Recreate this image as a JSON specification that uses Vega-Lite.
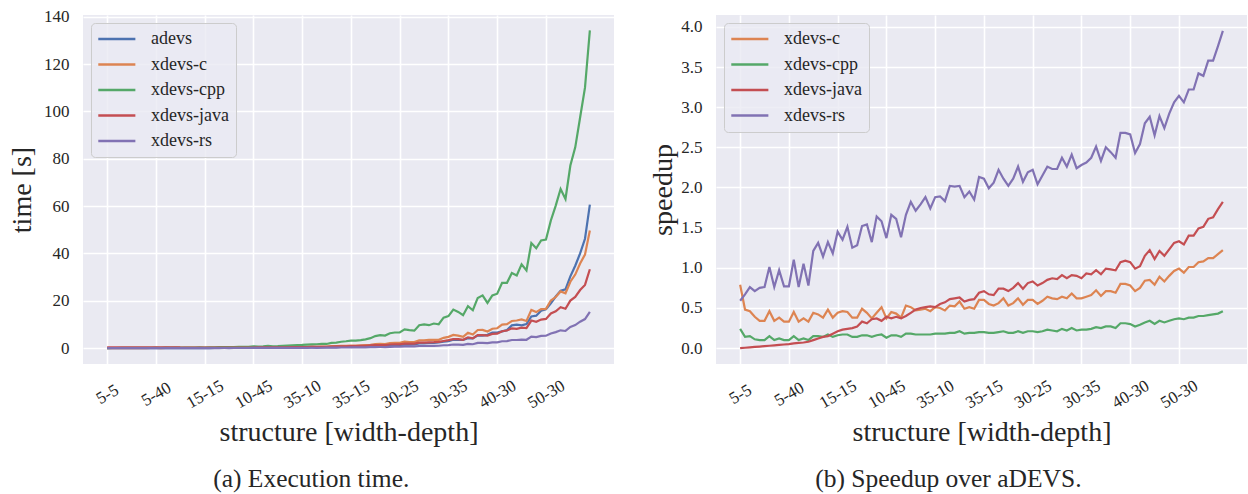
{
"$schema": "https://vega.github.io/schema/vega-lite/v6.json",
"padding": {"left": 8, "top": 7, "right": 0, "bottom": 0},
"datasets": {
"times": [
{"i":0,"adevs":0.008,"xdevs-c":0.01,"xdevs-cpp":0.03,"xdevs-java":0.30,"xdevs-rs":0.01},
{"i":1,"adevs":0.008,"xdevs-c":0.02,"xdevs-cpp":0.06,"xdevs-java":0.30,"xdevs-rs":0.01},
{"i":2,"adevs":0.009,"xdevs-c":0.02,"xdevs-cpp":0.06,"xdevs-java":0.30,"xdevs-rs":0.01},
{"i":3,"adevs":0.010,"xdevs-c":0.03,"xdevs-cpp":0.09,"xdevs-java":0.31,"xdevs-rs":0.01},
{"i":4,"adevs":0.011,"xdevs-c":0.03,"xdevs-cpp":0.11,"xdevs-java":0.31,"xdevs-rs":0.01},
{"i":5,"adevs":0.012,"xdevs-c":0.03,"xdevs-cpp":0.12,"xdevs-java":0.32,"xdevs-rs":0.02},
{"i":6,"adevs":0.013,"xdevs-c":0.03,"xdevs-cpp":0.09,"xdevs-java":0.32,"xdevs-rs":0.01},
{"i":7,"adevs":0.014,"xdevs-c":0.04,"xdevs-cpp":0.14,"xdevs-java":0.33,"xdevs-rs":0.02},
{"i":8,"adevs":0.015,"xdevs-c":0.04,"xdevs-cpp":0.13,"xdevs-java":0.33,"xdevs-rs":0.02},
{"i":9,"adevs":0.017,"xdevs-c":0.05,"xdevs-cpp":0.17,"xdevs-java":0.34,"xdevs-rs":0.02},
{"i":10,"adevs":0.018,"xdevs-c":0.06,"xdevs-cpp":0.18,"xdevs-java":0.35,"xdevs-rs":0.02},
{"i":11,"adevs":0.020,"xdevs-c":0.04,"xdevs-cpp":0.13,"xdevs-java":0.35,"xdevs-rs":0.02},
{"i":12,"adevs":0.022,"xdevs-c":0.07,"xdevs-cpp":0.22,"xdevs-java":0.36,"xdevs-rs":0.03},
{"i":13,"adevs":0.024,"xdevs-c":0.06,"xdevs-cpp":0.20,"xdevs-java":0.36,"xdevs-rs":0.02},
{"i":14,"adevs":0.026,"xdevs-c":0.08,"xdevs-cpp":0.26,"xdevs-java":0.37,"xdevs-rs":0.03},
{"i":15,"adevs":0.028,"xdevs-c":0.06,"xdevs-cpp":0.19,"xdevs-java":0.28,"xdevs-rs":0.02},
{"i":16,"adevs":0.031,"xdevs-c":0.07,"xdevs-cpp":0.20,"xdevs-java":0.25,"xdevs-rs":0.02},
{"i":17,"adevs":0.033,"xdevs-c":0.09,"xdevs-cpp":0.24,"xdevs-java":0.24,"xdevs-rs":0.03},
{"i":18,"adevs":0.036,"xdevs-c":0.08,"xdevs-cpp":0.21,"xdevs-java":0.24,"xdevs-rs":0.03},
{"i":19,"adevs":0.039,"xdevs-c":0.10,"xdevs-cpp":0.28,"xdevs-java":0.22,"xdevs-rs":0.03},
{"i":20,"adevs":0.043,"xdevs-c":0.10,"xdevs-cpp":0.27,"xdevs-java":0.20,"xdevs-rs":0.03},
{"i":21,"adevs":0.047,"xdevs-c":0.10,"xdevs-cpp":0.28,"xdevs-java":0.20,"xdevs-rs":0.03},
{"i":22,"adevs":0.051,"xdevs-c":0.11,"xdevs-cpp":0.30,"xdevs-java":0.21,"xdevs-rs":0.03},
{"i":23,"adevs":0.056,"xdevs-c":0.15,"xdevs-cpp":0.40,"xdevs-java":0.22,"xdevs-rs":0.04},
{"i":24,"adevs":0.061,"xdevs-c":0.16,"xdevs-cpp":0.43,"xdevs-java":0.22,"xdevs-rs":0.05},
{"i":25,"adevs":0.066,"xdevs-c":0.13,"xdevs-cpp":0.41,"xdevs-java":0.20,"xdevs-rs":0.04},
{"i":26,"adevs":0.072,"xdevs-c":0.16,"xdevs-cpp":0.45,"xdevs-java":0.23,"xdevs-rs":0.05},
{"i":27,"adevs":0.079,"xdevs-c":0.21,"xdevs-cpp":0.56,"xdevs-java":0.22,"xdevs-rs":0.06},
{"i":28,"adevs":0.086,"xdevs-c":0.20,"xdevs-cpp":0.54,"xdevs-java":0.23,"xdevs-rs":0.05},
{"i":29,"adevs":0.093,"xdevs-c":0.18,"xdevs-cpp":0.55,"xdevs-java":0.27,"xdevs-rs":0.06},
{"i":30,"adevs":0.102,"xdevs-c":0.28,"xdevs-cpp":0.78,"xdevs-java":0.26,"xdevs-rs":0.07},
{"i":31,"adevs":0.111,"xdevs-c":0.25,"xdevs-cpp":0.69,"xdevs-java":0.30,"xdevs-rs":0.07},
{"i":32,"adevs":0.121,"xdevs-c":0.28,"xdevs-cpp":0.76,"xdevs-java":0.31,"xdevs-rs":0.08},
{"i":33,"adevs":0.132,"xdevs-c":0.35,"xdevs-cpp":0.94,"xdevs-java":0.36,"xdevs-rs":0.10},
{"i":34,"adevs":0.144,"xdevs-c":0.27,"xdevs-cpp":0.80,"xdevs-java":0.36,"xdevs-rs":0.09},
{"i":35,"adevs":0.156,"xdevs-c":0.31,"xdevs-cpp":0.87,"xdevs-java":0.35,"xdevs-rs":0.09},
{"i":36,"adevs":0.171,"xdevs-c":0.36,"xdevs-cpp":1.01,"xdevs-java":0.36,"xdevs-rs":0.10},
{"i":37,"adevs":0.186,"xdevs-c":0.39,"xdevs-cpp":1.09,"xdevs-java":0.37,"xdevs-rs":0.10},
{"i":38,"adevs":0.203,"xdevs-c":0.41,"xdevs-cpp":1.19,"xdevs-java":0.40,"xdevs-rs":0.11},
{"i":39,"adevs":0.221,"xdevs-c":0.48,"xdevs-cpp":1.30,"xdevs-java":0.43,"xdevs-rs":0.13},
{"i":40,"adevs":0.241,"xdevs-c":0.47,"xdevs-cpp":1.34,"xdevs-java":0.47,"xdevs-rs":0.13},
{"i":41,"adevs":0.263,"xdevs-c":0.53,"xdevs-cpp":1.46,"xdevs-java":0.48,"xdevs-rs":0.14},
{"i":42,"adevs":0.286,"xdevs-c":0.61,"xdevs-cpp":1.59,"xdevs-java":0.50,"xdevs-rs":0.16},
{"i":43,"adevs":0.312,"xdevs-c":0.59,"xdevs-cpp":1.64,"xdevs-java":0.51,"xdevs-rs":0.15},
{"i":44,"adevs":0.340,"xdevs-c":0.65,"xdevs-cpp":1.79,"xdevs-java":0.55,"xdevs-rs":0.17},
{"i":45,"adevs":0.370,"xdevs-c":0.64,"xdevs-cpp":1.76,"xdevs-java":0.59,"xdevs-rs":0.18},
{"i":46,"adevs":0.404,"xdevs-c":0.82,"xdevs-cpp":2.24,"xdevs-java":0.70,"xdevs-rs":0.21},
{"i":47,"adevs":0.440,"xdevs-c":0.86,"xdevs-cpp":2.32,"xdevs-java":0.73,"xdevs-rs":0.23},
{"i":48,"adevs":0.48,"xdevs-c":0.98,"xdevs-cpp":2.7,"xdevs-java":0.79,"xdevs-rs":0.26},
{"i":49,"adevs":0.55,"xdevs-c":0.92,"xdevs-cpp":2.9,"xdevs-java":0.80,"xdevs-rs":0.26},
{"i":50,"adevs":0.61,"xdevs-c":1.02,"xdevs-cpp":3.2,"xdevs-java":0.86,"xdevs-rs":0.29},
{"i":51,"adevs":0.58,"xdevs-c":1.05,"xdevs-cpp":3.2,"xdevs-java":0.87,"xdevs-rs":0.29},
{"i":52,"adevs":0.62,"xdevs-c":1.17,"xdevs-cpp":3.4,"xdevs-java":0.94,"xdevs-rs":0.30},
{"i":53,"adevs":0.70,"xdevs-c":1.25,"xdevs-cpp":3.7,"xdevs-java":0.95,"xdevs-rs":0.32},
{"i":54,"adevs":0.84,"xdevs-c":1.35,"xdevs-cpp":4.2,"xdevs-java":1.14,"xdevs-rs":0.40},
{"i":55,"adevs":0.92,"xdevs-c":1.74,"xdevs-cpp":5.1,"xdevs-java":1.30,"xdevs-rs":0.46},
{"i":56,"adevs":1.00,"xdevs-c":1.79,"xdevs-cpp":5.5,"xdevs-java":1.33,"xdevs-rs":0.47},
{"i":57,"adevs":1.05,"xdevs-c":1.69,"xdevs-cpp":5.3,"xdevs-java":1.30,"xdevs-rs":0.46},
{"i":58,"adevs":1.14,"xdevs-c":2.11,"xdevs-cpp":6.3,"xdevs-java":1.54,"xdevs-rs":0.55},
{"i":59,"adevs":1.32,"xdevs-c":2.20,"xdevs-cpp":6.6,"xdevs-java":1.63,"xdevs-rs":0.60},
{"i":60,"adevs":1.32,"xdevs-c":2.20,"xdevs-cpp":6.6,"xdevs-java":1.59,"xdevs-rs":0.59},
{"i":61,"adevs":1.50,"xdevs-c":2.73,"xdevs-cpp":7.9,"xdevs-java":1.92,"xdevs-rs":0.74},
{"i":62,"adevs":1.52,"xdevs-c":2.58,"xdevs-cpp":7.6,"xdevs-java":1.88,"xdevs-rs":0.71},
{"i":63,"adevs":1.62,"xdevs-c":2.53,"xdevs-cpp":7.4,"xdevs-java":1.91,"xdevs-rs":0.72},
{"i":64,"adevs":2.02,"xdevs-c":3.26,"xdevs-cpp":9.7,"xdevs-java":2.32,"xdevs-rs":0.91},
{"i":65,"adevs":2.00,"xdevs-c":3.28,"xdevs-cpp":10.0,"xdevs-java":2.33,"xdevs-rs":0.90},
{"i":66,"adevs":2.21,"xdevs-c":3.45,"xdevs-cpp":9.7,"xdevs-java":2.43,"xdevs-rs":0.93},
{"i":67,"adevs":2.18,"xdevs-c":3.52,"xdevs-cpp":10.4,"xdevs-java":2.51,"xdevs-rs":0.96},
{"i":68,"adevs":2.40,"xdevs-c":3.53,"xdevs-cpp":10.1,"xdevs-java":2.64,"xdevs-rs":1.00},
{"i":69,"adevs":2.70,"xdevs-c":4.35,"xdevs-cpp":12.9,"xdevs-java":3.00,"xdevs-rs":1.21},
{"i":70,"adevs":2.95,"xdevs-c":4.76,"xdevs-cpp":13.5,"xdevs-java":3.39,"xdevs-rs":1.29},
{"i":71,"adevs":3.56,"xdevs-c":5.56,"xdevs-cpp":16.3,"xdevs-java":3.83,"xdevs-rs":1.54},
{"i":72,"adevs":3.49,"xdevs-c":5.29,"xdevs-cpp":15.3,"xdevs-java":3.79,"xdevs-rs":1.47},
{"i":73,"adevs":3.43,"xdevs-c":4.76,"xdevs-cpp":13.9,"xdevs-java":3.54,"xdevs-rs":1.37},
{"i":74,"adevs":4.21,"xdevs-c":6.48,"xdevs-cpp":17.7,"xdevs-java":4.58,"xdevs-rs":1.81},
{"i":75,"adevs":4.10,"xdevs-c":5.77,"xdevs-cpp":16.0,"xdevs-java":4.14,"xdevs-rs":1.64},
{"i":76,"adevs":5.43,"xdevs-c":7.65,"xdevs-cpp":21.2,"xdevs-java":5.54,"xdevs-rs":2.23},
{"i":77,"adevs":5.30,"xdevs-c":7.68,"xdevs-cpp":22.3,"xdevs-java":5.46,"xdevs-rs":2.24},
{"i":78,"adevs":5.62,"xdevs-c":7.03,"xdevs-cpp":19.1,"xdevs-java":5.25,"xdevs-rs":2.10},
{"i":79,"adevs":6.56,"xdevs-c":8.20,"xdevs-cpp":22.3,"xdevs-java":6.02,"xdevs-rs":2.45},
{"i":80,"adevs":6.56,"xdevs-c":8.41,"xdevs-cpp":23.0,"xdevs-java":6.13,"xdevs-rs":2.47},
{"i":81,"adevs":7.08,"xdevs-c":9.97,"xdevs-cpp":27.6,"xdevs-java":7.15,"xdevs-rs":2.91},
{"i":82,"adevs":7.60,"xdevs-c":10.13,"xdevs-cpp":27.6,"xdevs-java":7.45,"xdevs-rs":2.99},
{"i":83,"adevs":9.63,"xdevs-c":11.46,"xdevs-cpp":31.7,"xdevs-java":8.37,"xdevs-rs":3.44},
{"i":84,"adevs":9.92,"xdevs-c":11.67,"xdevs-cpp":30.7,"xdevs-java":8.13,"xdevs-rs":3.44},
{"i":85,"adevs":9.6,"xdevs-c":12.15,"xdevs-cpp":35.4,"xdevs-java":8.65,"xdevs-rs":3.62},
{"i":86,"adevs":10.2,"xdevs-c":11.46,"xdevs-cpp":32.8,"xdevs-java":8.43,"xdevs-rs":3.53},
{"i":87,"adevs":13.4,"xdevs-c":16.14,"xdevs-cpp":44.4,"xdevs-java":11.65,"xdevs-rs":4.89},
{"i":88,"adevs":13.7,"xdevs-c":15.22,"xdevs-cpp":42.2,"xdevs-java":11.14,"xdevs-rs":4.69},
{"i":89,"adevs":15.8,"xdevs-c":16.46,"xdevs-cpp":45.5,"xdevs-java":12.06,"xdevs-rs":5.16},
{"i":90,"adevs":16.4,"xdevs-c":16.57,"xdevs-cpp":45.9,"xdevs-java":12.33,"xdevs-rs":5.22},
{"i":91,"adevs":18.9,"xdevs-c":20.11,"xdevs-cpp":53.9,"xdevs-java":14.65,"xdevs-rs":6.18},
{"i":92,"adevs":21.8,"xdevs-c":21.58,"xdevs-cpp":60.2,"xdevs-java":15.57,"xdevs-rs":6.77},
{"i":93,"adevs":24.2,"xdevs-c":23.96,"xdevs-cpp":67.2,"xdevs-java":17.29,"xdevs-rs":7.52},
{"i":94,"adevs":24.8,"xdevs-c":23.18,"xdevs-cpp":63.0,"xdevs-java":16.64,"xdevs-rs":7.25},
{"i":95,"adevs":30.3,"xdevs-c":28.06,"xdevs-cpp":77.1,"xdevs-java":20.07,"xdevs-rs":8.94},
{"i":96,"adevs":34.8,"xdevs-c":31.07,"xdevs-cpp":84.8,"xdevs-java":21.61,"xdevs-rs":9.72},
{"i":97,"adevs":40.0,"xdevs-c":35.71,"xdevs-cpp":97.4,"xdevs-java":24.54,"xdevs-rs":11.17},
{"i":98,"adevs":46.2,"xdevs-c":39.49,"xdevs-cpp":110.0,"xdevs-java":26.71,"xdevs-rs":12.29},
{"i":99,"adevs":60.6,"xdevs-c":49.67,"xdevs-cpp":134.2,"xdevs-java":33.30,"xdevs-rs":15.34}
],
"speedups": [
{"i":0,"xdevs-c":0.79,"xdevs-cpp":0.24,"xdevs-java":0.0,"xdevs-rs":0.59},
{"i":1,"xdevs-c":0.48,"xdevs-cpp":0.14,"xdevs-java":0.005,"xdevs-rs":0.67},
{"i":2,"xdevs-c":0.46,"xdevs-cpp":0.15,"xdevs-java":0.01,"xdevs-rs":0.76},
{"i":3,"xdevs-c":0.39,"xdevs-cpp":0.11,"xdevs-java":0.015,"xdevs-rs":0.71},
{"i":4,"xdevs-c":0.34,"xdevs-cpp":0.10,"xdevs-java":0.02,"xdevs-rs":0.75},
{"i":5,"xdevs-c":0.34,"xdevs-cpp":0.10,"xdevs-java":0.025,"xdevs-rs":0.76},
{"i":6,"xdevs-c":0.46,"xdevs-cpp":0.15,"xdevs-java":0.03,"xdevs-rs":1.01},
{"i":7,"xdevs-c":0.34,"xdevs-cpp":0.10,"xdevs-java":0.035,"xdevs-rs":0.76},
{"i":8,"xdevs-c":0.38,"xdevs-cpp":0.12,"xdevs-java":0.04,"xdevs-rs":0.97},
{"i":9,"xdevs-c":0.33,"xdevs-cpp":0.10,"xdevs-java":0.045,"xdevs-rs":0.77},
{"i":10,"xdevs-c":0.33,"xdevs-cpp":0.10,"xdevs-java":0.05,"xdevs-rs":0.77},
{"i":11,"xdevs-c":0.45,"xdevs-cpp":0.15,"xdevs-java":0.06,"xdevs-rs":1.10},
{"i":12,"xdevs-c":0.33,"xdevs-cpp":0.10,"xdevs-java":0.065,"xdevs-rs":0.76},
{"i":13,"xdevs-c":0.37,"xdevs-cpp":0.12,"xdevs-java":0.07,"xdevs-rs":1.05},
{"i":14,"xdevs-c":0.33,"xdevs-cpp":0.10,"xdevs-java":0.08,"xdevs-rs":0.78},
{"i":15,"xdevs-c":0.44,"xdevs-cpp":0.15,"xdevs-java":0.10,"xdevs-rs":1.21},
{"i":16,"xdevs-c":0.42,"xdevs-cpp":0.15,"xdevs-java":0.12,"xdevs-rs":1.31},
{"i":17,"xdevs-c":0.38,"xdevs-cpp":0.14,"xdevs-java":0.14,"xdevs-rs":1.14},
{"i":18,"xdevs-c":0.48,"xdevs-cpp":0.17,"xdevs-java":0.15,"xdevs-rs":1.32},
{"i":19,"xdevs-c":0.38,"xdevs-cpp":0.14,"xdevs-java":0.18,"xdevs-rs":1.18},
{"i":20,"xdevs-c":0.44,"xdevs-cpp":0.16,"xdevs-java":0.21,"xdevs-rs":1.45},
{"i":21,"xdevs-c":0.46,"xdevs-cpp":0.17,"xdevs-java":0.23,"xdevs-rs":1.35},
{"i":22,"xdevs-c":0.45,"xdevs-cpp":0.17,"xdevs-java":0.24,"xdevs-rs":1.51},
{"i":23,"xdevs-c":0.38,"xdevs-cpp":0.14,"xdevs-java":0.25,"xdevs-rs":1.25},
{"i":24,"xdevs-c":0.38,"xdevs-cpp":0.14,"xdevs-java":0.27,"xdevs-rs":1.28},
{"i":25,"xdevs-c":0.49,"xdevs-cpp":0.16,"xdevs-java":0.33,"xdevs-rs":1.52},
{"i":26,"xdevs-c":0.44,"xdevs-cpp":0.16,"xdevs-java":0.31,"xdevs-rs":1.54},
{"i":27,"xdevs-c":0.37,"xdevs-cpp":0.14,"xdevs-java":0.36,"xdevs-rs":1.32},
{"i":28,"xdevs-c":0.44,"xdevs-cpp":0.16,"xdevs-java":0.37,"xdevs-rs":1.64},
{"i":29,"xdevs-c":0.51,"xdevs-cpp":0.17,"xdevs-java":0.34,"xdevs-rs":1.58},
{"i":30,"xdevs-c":0.37,"xdevs-cpp":0.13,"xdevs-java":0.39,"xdevs-rs":1.37},
{"i":31,"xdevs-c":0.45,"xdevs-cpp":0.16,"xdevs-java":0.37,"xdevs-rs":1.66},
{"i":32,"xdevs-c":0.43,"xdevs-cpp":0.16,"xdevs-java":0.39,"xdevs-rs":1.61},
{"i":33,"xdevs-c":0.38,"xdevs-cpp":0.14,"xdevs-java":0.37,"xdevs-rs":1.38},
{"i":34,"xdevs-c":0.53,"xdevs-cpp":0.18,"xdevs-java":0.40,"xdevs-rs":1.66},
{"i":35,"xdevs-c":0.51,"xdevs-cpp":0.18,"xdevs-java":0.44,"xdevs-rs":1.82},
{"i":36,"xdevs-c":0.47,"xdevs-cpp":0.17,"xdevs-java":0.48,"xdevs-rs":1.71},
{"i":37,"xdevs-c":0.48,"xdevs-cpp":0.17,"xdevs-java":0.50,"xdevs-rs":1.79},
{"i":38,"xdevs-c":0.49,"xdevs-cpp":0.17,"xdevs-java":0.51,"xdevs-rs":1.88},
{"i":39,"xdevs-c":0.46,"xdevs-cpp":0.17,"xdevs-java":0.52,"xdevs-rs":1.74},
{"i":40,"xdevs-c":0.51,"xdevs-cpp":0.18,"xdevs-java":0.51,"xdevs-rs":1.88},
{"i":41,"xdevs-c":0.50,"xdevs-cpp":0.18,"xdevs-java":0.55,"xdevs-rs":1.89},
{"i":42,"xdevs-c":0.47,"xdevs-cpp":0.18,"xdevs-java":0.57,"xdevs-rs":1.83},
{"i":43,"xdevs-c":0.53,"xdevs-cpp":0.19,"xdevs-java":0.61,"xdevs-rs":2.02},
{"i":44,"xdevs-c":0.52,"xdevs-cpp":0.19,"xdevs-java":0.62,"xdevs-rs":2.01},
{"i":45,"xdevs-c":0.58,"xdevs-cpp":0.21,"xdevs-java":0.63,"xdevs-rs":2.02},
{"i":46,"xdevs-c":0.49,"xdevs-cpp":0.18,"xdevs-java":0.58,"xdevs-rs":1.88},
{"i":47,"xdevs-c":0.51,"xdevs-cpp":0.19,"xdevs-java":0.60,"xdevs-rs":1.95},
{"i":48,"xdevs-c":0.49,"xdevs-cpp":0.19,"xdevs-java":0.61,"xdevs-rs":1.85},
{"i":49,"xdevs-c":0.60,"xdevs-cpp":0.20,"xdevs-java":0.69,"xdevs-rs":2.13},
{"i":50,"xdevs-c":0.60,"xdevs-cpp":0.20,"xdevs-java":0.71,"xdevs-rs":2.11},
{"i":51,"xdevs-c":0.55,"xdevs-cpp":0.19,"xdevs-java":0.67,"xdevs-rs":1.99},
{"i":52,"xdevs-c":0.53,"xdevs-cpp":0.19,"xdevs-java":0.66,"xdevs-rs":2.06},
{"i":53,"xdevs-c":0.56,"xdevs-cpp":0.20,"xdevs-java":0.74,"xdevs-rs":2.22},
{"i":54,"xdevs-c":0.62,"xdevs-cpp":0.21,"xdevs-java":0.74,"xdevs-rs":2.11},
{"i":55,"xdevs-c":0.53,"xdevs-cpp":0.19,"xdevs-java":0.71,"xdevs-rs":2.02},
{"i":56,"xdevs-c":0.56,"xdevs-cpp":0.19,"xdevs-java":0.75,"xdevs-rs":2.11},
{"i":57,"xdevs-c":0.62,"xdevs-cpp":0.21,"xdevs-java":0.81,"xdevs-rs":2.26},
{"i":58,"xdevs-c":0.54,"xdevs-cpp":0.19,"xdevs-java":0.74,"xdevs-rs":2.07},
{"i":59,"xdevs-c":0.60,"xdevs-cpp":0.21,"xdevs-java":0.81,"xdevs-rs":2.19},
{"i":60,"xdevs-c":0.60,"xdevs-cpp":0.21,"xdevs-java":0.83,"xdevs-rs":2.22},
{"i":61,"xdevs-c":0.55,"xdevs-cpp":0.20,"xdevs-java":0.78,"xdevs-rs":2.04},
{"i":62,"xdevs-c":0.59,"xdevs-cpp":0.21,"xdevs-java":0.81,"xdevs-rs":2.15},
{"i":63,"xdevs-c":0.64,"xdevs-cpp":0.23,"xdevs-java":0.85,"xdevs-rs":2.26},
{"i":64,"xdevs-c":0.62,"xdevs-cpp":0.22,"xdevs-java":0.87,"xdevs-rs":2.23},
{"i":65,"xdevs-c":0.61,"xdevs-cpp":0.21,"xdevs-java":0.86,"xdevs-rs":2.23},
{"i":66,"xdevs-c":0.64,"xdevs-cpp":0.24,"xdevs-java":0.91,"xdevs-rs":2.37},
{"i":67,"xdevs-c":0.62,"xdevs-cpp":0.22,"xdevs-java":0.87,"xdevs-rs":2.26},
{"i":68,"xdevs-c":0.68,"xdevs-cpp":0.25,"xdevs-java":0.91,"xdevs-rs":2.41},
{"i":69,"xdevs-c":0.62,"xdevs-cpp":0.22,"xdevs-java":0.90,"xdevs-rs":2.24},
{"i":70,"xdevs-c":0.62,"xdevs-cpp":0.23,"xdevs-java":0.87,"xdevs-rs":2.28},
{"i":71,"xdevs-c":0.64,"xdevs-cpp":0.23,"xdevs-java":0.93,"xdevs-rs":2.31},
{"i":72,"xdevs-c":0.66,"xdevs-cpp":0.24,"xdevs-java":0.92,"xdevs-rs":2.37},
{"i":73,"xdevs-c":0.72,"xdevs-cpp":0.26,"xdevs-java":0.97,"xdevs-rs":2.51},
{"i":74,"xdevs-c":0.65,"xdevs-cpp":0.25,"xdevs-java":0.92,"xdevs-rs":2.33},
{"i":75,"xdevs-c":0.71,"xdevs-cpp":0.27,"xdevs-java":0.99,"xdevs-rs":2.50},
{"i":76,"xdevs-c":0.71,"xdevs-cpp":0.27,"xdevs-java":0.98,"xdevs-rs":2.44},
{"i":77,"xdevs-c":0.69,"xdevs-cpp":0.25,"xdevs-java":0.97,"xdevs-rs":2.37},
{"i":78,"xdevs-c":0.80,"xdevs-cpp":0.31,"xdevs-java":1.07,"xdevs-rs":2.68},
{"i":79,"xdevs-c":0.80,"xdevs-cpp":0.31,"xdevs-java":1.09,"xdevs-rs":2.68},
{"i":80,"xdevs-c":0.78,"xdevs-cpp":0.30,"xdevs-java":1.07,"xdevs-rs":2.66},
{"i":81,"xdevs-c":0.71,"xdevs-cpp":0.27,"xdevs-java":0.99,"xdevs-rs":2.43},
{"i":82,"xdevs-c":0.75,"xdevs-cpp":0.29,"xdevs-java":1.02,"xdevs-rs":2.54},
{"i":83,"xdevs-c":0.84,"xdevs-cpp":0.32,"xdevs-java":1.15,"xdevs-rs":2.80},
{"i":84,"xdevs-c":0.85,"xdevs-cpp":0.34,"xdevs-java":1.22,"xdevs-rs":2.88},
{"i":85,"xdevs-c":0.79,"xdevs-cpp":0.30,"xdevs-java":1.11,"xdevs-rs":2.65},
{"i":86,"xdevs-c":0.89,"xdevs-cpp":0.34,"xdevs-java":1.21,"xdevs-rs":2.89},
{"i":87,"xdevs-c":0.83,"xdevs-cpp":0.32,"xdevs-java":1.15,"xdevs-rs":2.74},
{"i":88,"xdevs-c":0.90,"xdevs-cpp":0.34,"xdevs-java":1.23,"xdevs-rs":2.92},
{"i":89,"xdevs-c":0.96,"xdevs-cpp":0.36,"xdevs-java":1.31,"xdevs-rs":3.06},
{"i":90,"xdevs-c":0.99,"xdevs-cpp":0.37,"xdevs-java":1.33,"xdevs-rs":3.14},
{"i":91,"xdevs-c":0.94,"xdevs-cpp":0.36,"xdevs-java":1.29,"xdevs-rs":3.06},
{"i":92,"xdevs-c":1.01,"xdevs-cpp":0.38,"xdevs-java":1.40,"xdevs-rs":3.22},
{"i":93,"xdevs-c":1.01,"xdevs-cpp":0.38,"xdevs-java":1.40,"xdevs-rs":3.22},
{"i":94,"xdevs-c":1.07,"xdevs-cpp":0.40,"xdevs-java":1.49,"xdevs-rs":3.42},
{"i":95,"xdevs-c":1.08,"xdevs-cpp":0.40,"xdevs-java":1.51,"xdevs-rs":3.39},
{"i":96,"xdevs-c":1.12,"xdevs-cpp":0.41,"xdevs-java":1.61,"xdevs-rs":3.58},
{"i":97,"xdevs-c":1.12,"xdevs-cpp":0.42,"xdevs-java":1.63,"xdevs-rs":3.58},
{"i":98,"xdevs-c":1.17,"xdevs-cpp":0.43,"xdevs-java":1.73,"xdevs-rs":3.76},
{"i":99,"xdevs-c":1.22,"xdevs-cpp":0.46,"xdevs-java":1.82,"xdevs-rs":3.95}
]
},
"hconcat": [
{
"data": {"name": "times"},
"transform": [{"fold": ["adevs","xdevs-c","xdevs-cpp","xdevs-java","xdevs-rs"], "as": ["impl","v"]}],
"width": 531, "height": 349,
"title": {"text": "(a) Execution time.", "orient": "bottom", "anchor": "middle", "frame": "bounds", "offset": 20},
"mark": {"type": "line", "strokeWidth": 2.2},
"encoding": {
"x": {"field": "i", "type": "quantitative", "scale": {"domain": [-4.95, 103.95], "nice": false, "zero": false},
"axis": {"values": [0,10,20,30,40,50,60,70,80,90], "labelExpr": "['5-5','5-40','15-15','10-45','35-10','35-15','30-25','30-35','40-30','50-30'][round(datum.value/10)]", "title": "structure [width-depth]"}},
"y": {"field": "v", "type": "quantitative", "scale": {"domain": [-6.7, 140.7], "nice": false, "zero": false},
"axis": {"values": [0,20,40,60,80,100,120,140], "title": "time [s]", "titlePadding": 7}},
"color": {"field": "impl", "type": "nominal",
"scale": {"domain": ["adevs","xdevs-c","xdevs-cpp","xdevs-java","xdevs-rs"], "range": ["#4C72B0","#DD8452","#55A868","#C44E52","#8172B3"]},
"legend": {"title": null}}
}
},
{
"data": {"name": "speedups"},
"transform": [{"fold": ["xdevs-c","xdevs-cpp","xdevs-java","xdevs-rs"], "as": ["impl","v"]}],
"width": 531, "height": 349,
"title": {"text": "(b) Speedup over aDEVS.", "orient": "bottom", "anchor": "middle", "frame": "bounds", "offset": 20},
"mark": {"type": "line", "strokeWidth": 2.2},
"encoding": {
"x": {"field": "i", "type": "quantitative", "scale": {"domain": [-4.95, 103.95], "nice": false, "zero": false},
"axis": {"values": [0,10,20,30,40,50,60,70,80,90], "labelExpr": "['5-5','5-40','15-15','10-45','35-10','35-15','30-25','30-35','40-30','50-30'][round(datum.value/10)]", "title": "structure [width-depth]"}},
"y": {"field": "v", "type": "quantitative", "scale": {"domain": [-0.1975, 4.1475], "nice": false, "zero": false},
"axis": {"values": [0,0.5,1,1.5,2,2.5,3,3.5,4], "format": ".1f", "title": "speedup", "titlePadding": 3}},
"color": {"field": "impl", "type": "nominal",
"scale": {"domain": ["xdevs-c","xdevs-cpp","xdevs-java","xdevs-rs"], "range": ["#DD8452","#55A868","#C44E52","#8172B3"]},
"legend": {"title": null}}
}
}
],
"spacing": 102,
"bounds": "flush",
"resolve": {"scale": {"x": "independent", "y": "independent", "color": "independent"}, "legend": {"color": "independent"}},
"config": {
"font": "Liberation Serif",
"background": "white",
"view": {"fill": "#EAEAF2", "stroke": null},
"style": {"guide-label": {"font": "Liberation Serif"}, "guide-title": {"font": "Liberation Serif"}},
"axis": {"domain": false, "ticks": false, "grid": true, "gridColor": "#ffffff", "gridWidth": 1.6,
"labelFont": "Liberation Serif", "labelFontSize": 17, "labelColor": "#262626", "labelPadding": 14,
"titleFont": "Liberation Serif", "titleFontSize": 28, "titleFontWeight": "normal", "titleColor": "#262626", "titlePadding": 4},
"axisX": {"labelAngle": -30, "labelAlign": "center", "labelBaseline": "middle", "labelPadding": 30, "titlePadding": 8},
"legend": {"orient": "top-left", "offset": 8, "labelFont": "Liberation Serif", "labelFontSize": 18, "labelColor": "#262626",
"symbolType": "M-2.35,0H7.65", "symbolSize": 55, "symbolStrokeWidth": 2.5, "labelOffset": 35, "rowPadding": 7.5, "padding": 7,
"fillColor": "rgba(234,234,242,0.8)", "strokeColor": "#cccccc", "cornerRadius": 4},
"title": {"font": "Liberation Serif", "fontSize": 25.5, "fontWeight": "normal", "color": "#262626"}
}
}
